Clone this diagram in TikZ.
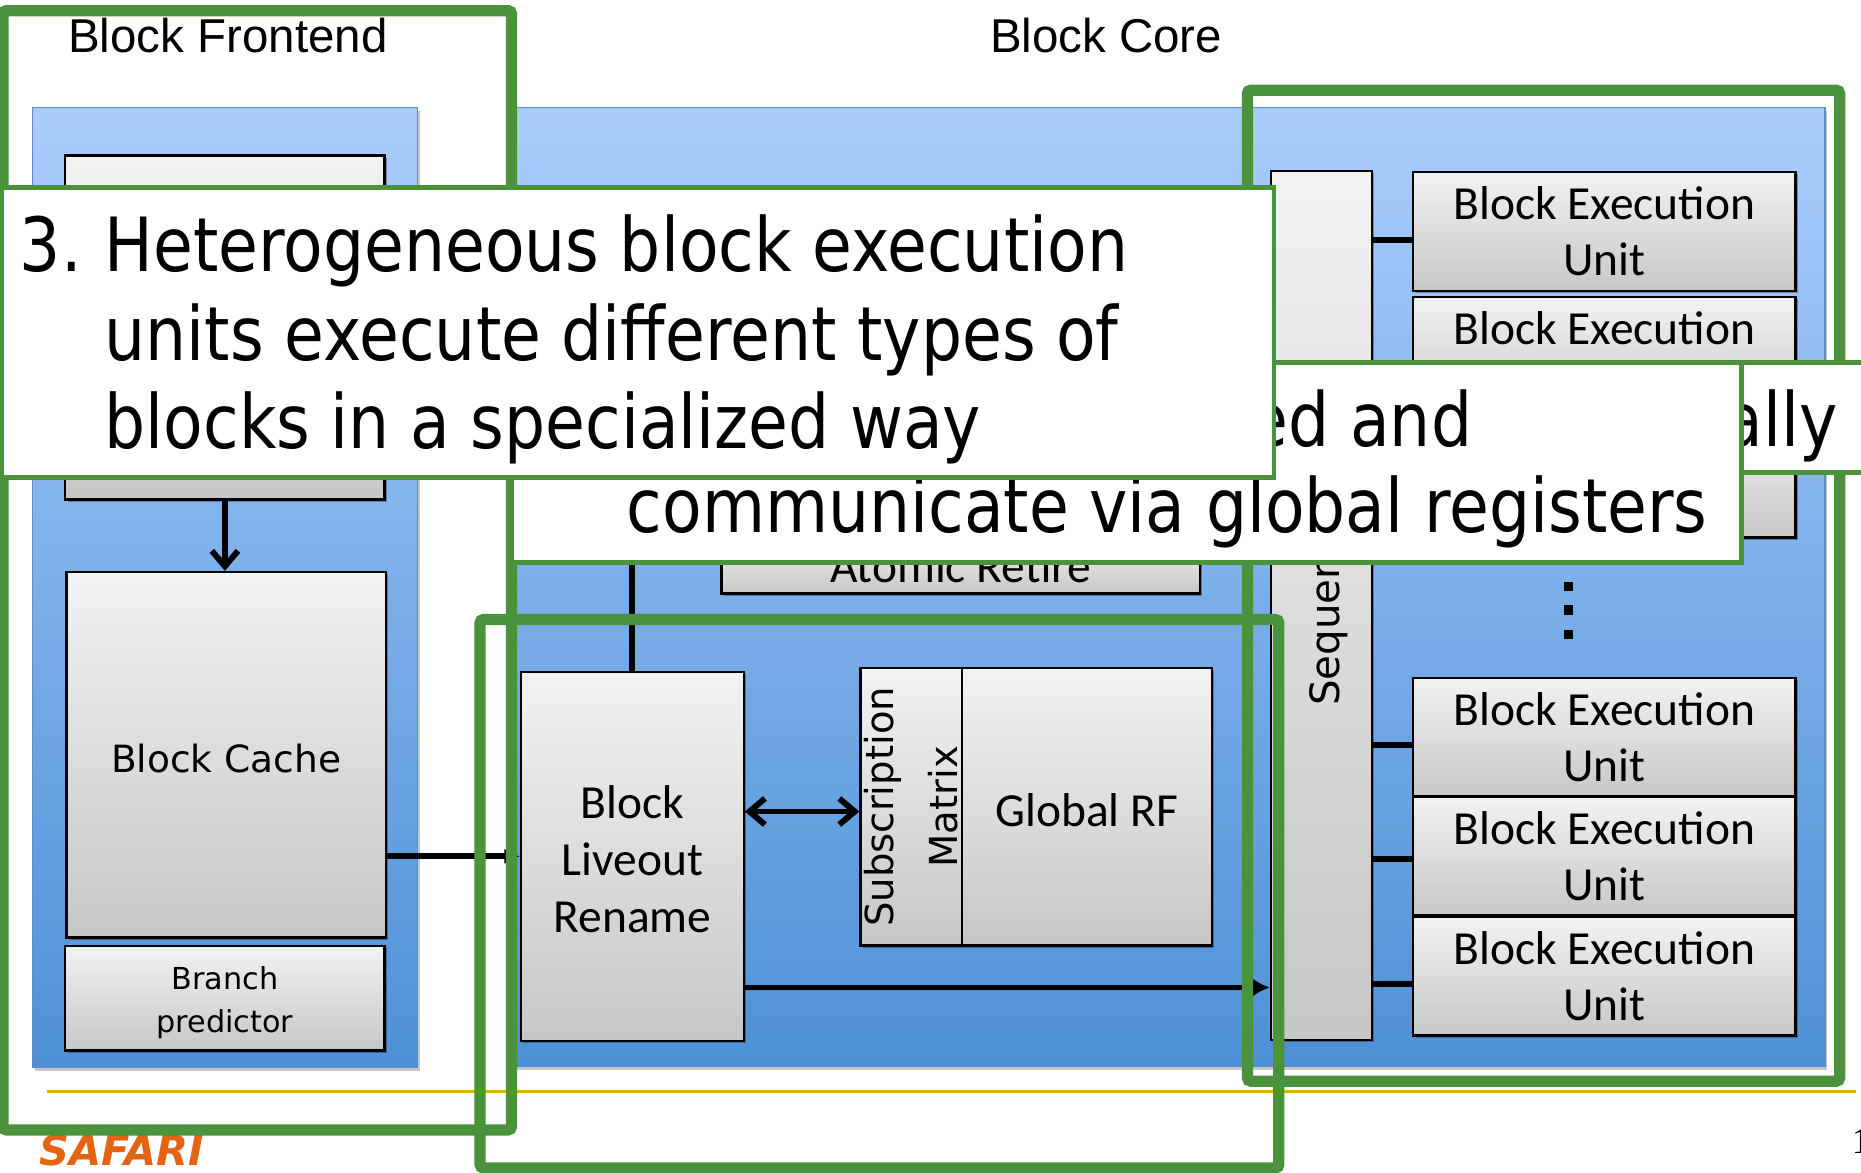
\documentclass[tikz,border=0pt]{standalone}
\usepackage{fontspec}
\usetikzlibrary{arrows.meta,shadows,calc}

% Fonts
\newfontfamily\calloutfont[FakeStretch=0.866]{DejaVu Sans}
\newfontfamily\verdfont{DejaVu Sans}
\newfontfamily\calfont{Carlito}
\newfontfamily\arialfont{Liberation Sans}
\newfontfamily\serifnum{Liberation Serif}
\newcommand{\bignotefont}{\calloutfont\fontsize{63}{74}\selectfont}

% Colours
\definecolor{frameGreen}{RGB}{74,146,60}
\definecolor{panelTop}{RGB}{170,205,252}
\definecolor{panelBot}{RGB}{78,145,214}
\definecolor{panelEdge}{RGB}{92,140,208}
\definecolor{blockTop}{RGB}{242,242,242}
\definecolor{blockBot}{RGB}{199,199,199}
\definecolor{ruleGold}{RGB}{224,176,0}
\definecolor{safariOrange}{RGB}{228,100,20}

\begin{document}
\begin{tikzpicture}[x=1pt,y=-1pt,
  panel/.style={draw=panelEdge, line width=1.2pt, top color=panelTop, bottom color=panelBot,
    inner sep=0pt, anchor=north west,
    drop shadow={shadow xshift=2pt, shadow yshift=-3pt, fill=black, opacity=0.22}},
  blk/.style={draw=black, line width=2pt, top color=blockTop, bottom color=blockBot,
    inner sep=0pt, anchor=north west, align=center,
    drop shadow={shadow xshift=2pt, shadow yshift=-2pt, fill=black, opacity=0.3}},
  hiframe/.style={draw=frameGreen, line width=9.5pt, rounded corners=3pt},
  notebox/.style={draw=frameGreen, line width=4pt, fill=white},
  wire/.style={line width=5pt},
  barb/.style={-{Straight Barb[length=13pt,width=22pt]}},
  txt/.style={inner sep=0pt, anchor=base west},
  beufont/.style={font=\calfont\fontsize{40}{47}\selectfont}
]
% page
\fill[white] (0,0) rectangle (1568,988);
\useasboundingbox (0,0) rectangle (1568,988);

% titles
\node[txt, anchor=base, font=\arialfont\fontsize{40}{48}\selectfont] (tFront) at (192,44.4) {Block Frontend};
\node[txt, anchor=base, font=\arialfont\fontsize{40}{48}\selectfont] (tCore) at (932,44.4) {Block Core};

% blue panels
\node[panel, minimum width=324pt, minimum height=809pt] (pFront) at (27,90) {};
\node[panel, minimum width=1109pt, minimum height=808pt] (pCore) at (428,90) {};

% frontend blocks
\node[blk, minimum width=269pt, minimum height=290pt] (fetch) at (54,130) {};
\node[blk, minimum width=269pt, minimum height=308pt] (cache) at (55,481) {};
\node[align=center, inner sep=0pt, font=\verdfont\fontsize{31.6}{38}\selectfont] (cachetxt) at ($(cache.center)+(0,3)$) {Block Cache};
\node[blk, minimum width=269pt, minimum height=88pt] (bpred) at (54,796) {};
\node[align=center, inner sep=0pt, font=\verdfont\fontsize{25.5}{36}\selectfont] (bpredtxt) at ($(bpred.center)+(0,4)$) {Branch\\predictor};

% core blocks
\node[blk, minimum width=403pt, minimum height=46pt, font=\calfont\fontsize{40}{48}\selectfont] (retire) at (607,453) {Atomic Retire};
\node[blk, minimum width=187.6pt, minimum height=311pt] (liveout) at (438,565) {};
\node[align=center, inner sep=0pt, font=\calfont\fontsize{40}{48}\selectfont] (liveouttxt) at ($(liveout.center)+(0,2.5)$) {Block\\Liveout\\Rename};
\node[blk, minimum width=85.4pt, minimum height=233.5pt] (subm) at (724,562) {};
\node[rotate=90, align=center, inner sep=0pt, font=\verdfont\fontsize{32.5}{54}\selectfont] (submtxt) at (subm.center) {Subscription\\Matrix};
\node[blk, minimum width=210.6pt, minimum height=233.5pt] (grf) at (809.4,562) {};
\node[inner sep=0pt, font=\calfont\fontsize{40}{48}\selectfont] (grftxt) at ($(grf.center)+(0,3)$) {Global RF};

\node[blk, minimum width=85pt, minimum height=732pt] (seq) at (1070,143) {};
\node[rotate=90, txt, font=\verdfont\fontsize{34}{40}\selectfont] (seqtxt) at (1129,595) {Sequencer};

% block execution units
\foreach \n/\y in {1/144,2/249,4/570,5/670.5,6/771.5}
  \node[blk, beufont, minimum width=322pt, minimum height=100pt] (beu\n) at (1189.7,\y) {Block Execution\\Unit};
\node[blk, minimum width=322pt, minimum height=100pt] (beu3) at (1189.7,352) {};

% continuation dots
\foreach \y in {494,514,534.5}
  \fill[black] (1317.5,\y-4) rectangle ++(8,8);

% connectors
\draw[wire, barb] (fetch.south) -- (fetch.south |- cache.north);
\draw[wire, -{Latex[length=13pt,width=13pt]}] (cache.east |- liveout.west) -- (liveout.west);
\draw[wire, {Straight Barb[length=13pt,width=22pt]}-{Straight Barb[length=13pt,width=22pt]}]
  ($(liveout.east |- subm.west)+(0,4)$) -- ($(subm.west)+(0,4)$);
\draw[wire, -{Latex[length=15pt,width=16pt]}]
  ($(liveout.south east)+(0,-46)$) -- ($(liveout.south east -| seq.west)+(0,-46)$);
\draw[wire] (liveout.north) -- ++(0,-130);
\draw[wire] ($(beu1.west)+(0,7)$) -- ($(beu1.west -| seq.east)+(0,7)$);
\draw[wire] ($(beu4.west)+(0,6.5)$) -- ($(beu4.west -| seq.east)+(0,6.5)$);
\draw[wire] ($(beu5.west)+(0,2.5)$) -- ($(beu5.west -| seq.east)+(0,2.5)$);
\draw[wire] ($(beu6.west)+(0,6.5)$) -- ($(beu6.west -| seq.east)+(0,6.5)$);

% footer
\draw[ruleGold, line width=2.5pt] (40,920) -- (1564,920);
\node[txt, text=safariOrange, font=\verdfont\bfseries\itshape\fontsize{35}{40}\selectfont] (logo) at (33,982) {SAFARI};
\node[txt, font=\serifnum\fontsize{31}{36}\selectfont] (pagenum) at (1560,971.6) {1};

% highlight frames
\draw[hiframe] (2.5,9) rectangle (431,952);
\draw[hiframe] (1051,76) rectangle (1550,911);
\draw[hiframe] (404.5,522) rectangle (1077.5,984);

% note boxes
\draw[notebox] (1467,305.5) rectangle (1620,398);
\node[txt, font=\bignotefont] (allytxt) at (1452,376.5) {ally};

\draw[notebox] (431,305.5) rectangle (1467,474);
\node[txt, font=\bignotefont] (edand) at (1052,376.5) {ed and};
\node[txt, font=\bignotefont] (commtxt) at (528,449) {communicate via global registers};

\draw[notebox] (1,158) rectangle (1073.5,402);
\node[txt, font=\bignotefont] (num3) at (16.6,229) {3.};
\node[txt, font=\bignotefont] (line1) at (88,229) {Heterogeneous block execution};
\node[txt, font=\bignotefont] (line2) at (88,303.5) {units execute different types of};
\node[txt, font=\bignotefont] (line3) at (88,378) {blocks in a specialized way};
\end{tikzpicture}
\end{document}
